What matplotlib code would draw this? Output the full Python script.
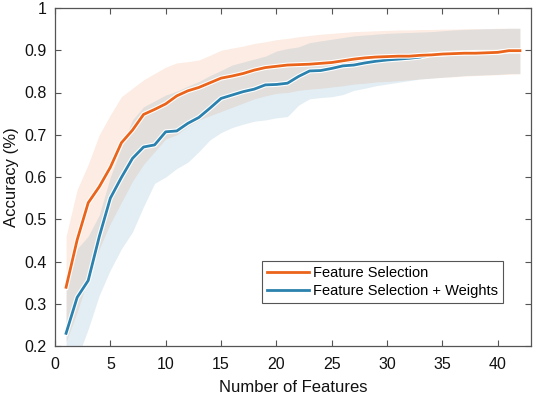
import matplotlib.pyplot as plt
import matplotlib.patheffects as pe

plt.rcParams['font.family'] = ['Liberation Sans', 'DejaVu Sans']

# number of features
n_features = list(range(1, 43))

# mean accuracy, feature selection
fs_mean = [0.339, 0.451, 0.539, 0.577, 0.623, 0.681, 0.711, 0.748, 0.760, 0.773,
           0.792, 0.804, 0.812, 0.823, 0.834, 0.839, 0.845, 0.853, 0.859, 0.862,
           0.865, 0.866, 0.867, 0.869, 0.871, 0.875, 0.879, 0.882, 0.884, 0.885,
           0.886, 0.886, 0.888, 0.889, 0.891, 0.892, 0.893, 0.893, 0.894, 0.895,
           0.899, 0.899]
fs_upper = [0.46, 0.57, 0.63, 0.70, 0.747, 0.79, 0.81, 0.83, 0.845, 0.86,
            0.87, 0.873, 0.877, 0.888, 0.90, 0.905, 0.91, 0.916, 0.92, 0.925,
            0.928, 0.932, 0.935, 0.938, 0.94, 0.942, 0.944, 0.945, 0.946, 0.947,
            0.948, 0.948, 0.949, 0.949, 0.950, 0.950, 0.951, 0.951, 0.951, 0.952,
            0.952, 0.952]
fs_lower = [0.21, 0.28, 0.36, 0.43, 0.49, 0.54, 0.59, 0.63, 0.66, 0.69,
            0.70, 0.72, 0.735, 0.745, 0.755, 0.765, 0.775, 0.785, 0.792, 0.798,
            0.800, 0.805, 0.808, 0.810, 0.813, 0.816, 0.820, 0.822, 0.825, 0.826,
            0.828, 0.830, 0.832, 0.834, 0.836, 0.837, 0.839, 0.840, 0.841, 0.842,
            0.843, 0.844]

# mean accuracy, feature selection + weights
fw_mean = [0.230, 0.315, 0.355, 0.459, 0.550, 0.599, 0.644, 0.671, 0.676, 0.707,
           0.709, 0.727, 0.741, 0.763, 0.786, 0.794, 0.802, 0.808, 0.818, 0.819,
           0.822, 0.838, 0.851, 0.852, 0.857, 0.863, 0.865, 0.870, 0.874, 0.877,
           0.879, 0.881, 0.884, 0.890, 0.891, 0.893, 0.894, 0.895, 0.895, 0.895,
           0.898, 0.898]
fw_upper = [0.33, 0.43, 0.46, 0.51, 0.60, 0.67, 0.735, 0.766, 0.78, 0.794,
            0.803, 0.815, 0.826, 0.84, 0.852, 0.865, 0.872, 0.879, 0.886, 0.898,
            0.904, 0.908, 0.918, 0.922, 0.926, 0.930, 0.934, 0.936, 0.938, 0.940,
            0.941, 0.942, 0.943, 0.944, 0.946, 0.948, 0.949, 0.950, 0.951, 0.951,
            0.952, 0.952]
fw_lower = [0.13, 0.17, 0.24, 0.32, 0.38, 0.43, 0.47, 0.53, 0.585, 0.60,
            0.62, 0.635, 0.66, 0.688, 0.705, 0.717, 0.725, 0.732, 0.735, 0.740,
            0.743, 0.770, 0.785, 0.788, 0.790, 0.795, 0.805, 0.810, 0.816, 0.820,
            0.824, 0.828, 0.832, 0.834, 0.836, 0.838, 0.840, 0.841, 0.842, 0.843,
            0.845, 0.845]

orange = '#EB641B'
blue = '#2C82AE'

fig = plt.figure(figsize=(5.36, 3.99), dpi=100)
ax = fig.add_axes([55/536, 53/399, 476/536, 338/399])

ax.fill_between(n_features, fs_lower, fs_upper, color=orange, alpha=0.12, linewidth=0)
ax.fill_between(n_features, fw_lower, fw_upper, color=blue, alpha=0.13, linewidth=0)

# blue drawn first so orange sits on top where they meet
halo = [pe.Stroke(linewidth=3.6, foreground='white'), pe.Normal()]
l_fw, = ax.plot(n_features, fw_mean, color=blue, linewidth=2.0,
                label='Feature Selection + Weights', path_effects=halo)
l_fs, = ax.plot(n_features, fs_mean, color=orange, linewidth=2.0,
                label='Feature Selection', path_effects=halo)

ax.set_xlim(0, 43)
ax.set_ylim(0.2, 1)
ax.set_xticks(range(0, 41, 5))
ax.set_yticks([0.2, 0.3, 0.4, 0.5, 0.6, 0.7, 0.8, 0.9, 1.0])
ax.set_yticklabels(['0.2', '0.3', '0.4', '0.5', '0.6', '0.7', '0.8', '0.9', '1'])
ax.tick_params(axis='both', direction='in', top=True, right=True, length=4,
               width=0.8, color='#555555', labelsize=11.5, labelcolor='#111111')
ax.tick_params(axis='x', pad=8)
ax.tick_params(axis='y', pad=6)
for s in ax.spines.values():
    s.set_color('#555555')
    s.set_linewidth(0.9)

ax.set_xlabel('Number of Features', fontsize=12, color='#111111', labelpad=6)
ax.set_ylabel('Accuracy (%)', fontsize=12, color='#111111', labelpad=4)

leg = ax.legend(handles=[l_fs, l_fw], loc='lower right', bbox_to_anchor=(0.941, 0.127),
                borderaxespad=0, fontsize=10.5, handlelength=2.9, handletextpad=0.25,
                fancybox=False, framealpha=1, edgecolor='#555555', borderpad=0.35,
                labelspacing=0.25)
leg.get_frame().set_linewidth(0.8)

fig.savefig('out.png', dpi=100)
